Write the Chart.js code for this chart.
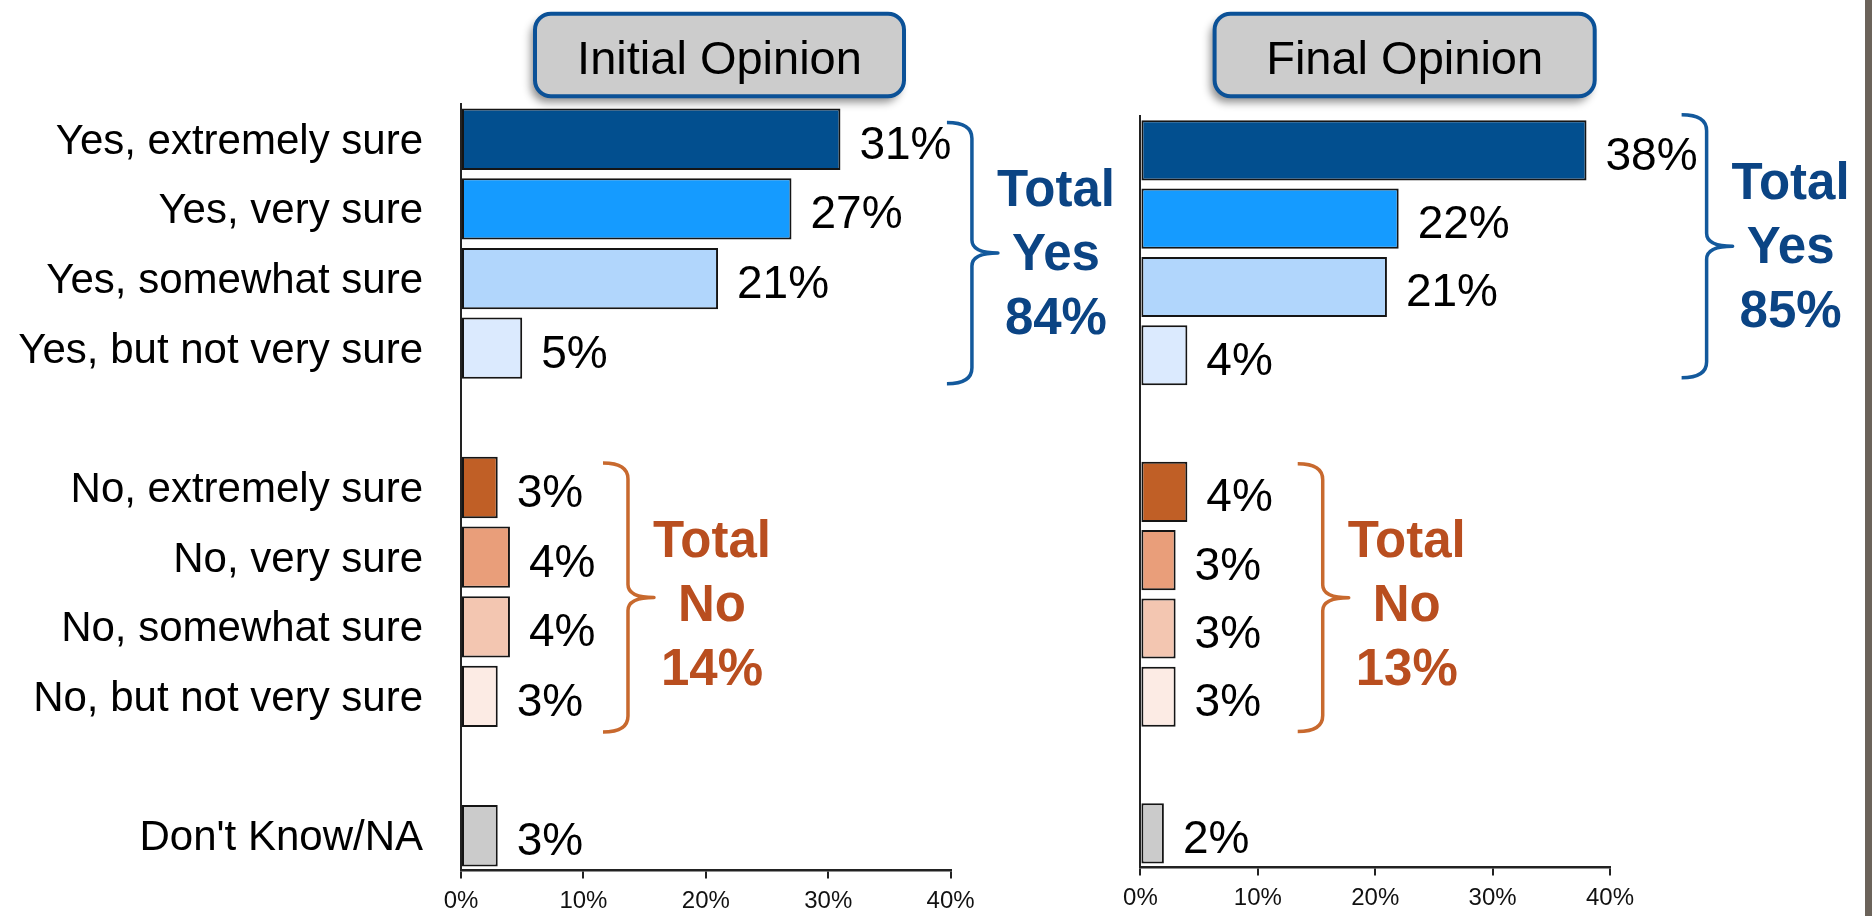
<!DOCTYPE html>
<html>
<head>
<meta charset="utf-8">
<script src="https://cdn.jsdelivr.net/npm/chart.js@4.4.1/dist/chart.umd.min.js"></script>
<style>
  html, body { margin:0; padding:0; background:#ffffff; width:1872px; height:916px; overflow:hidden; }
  .layer { position:absolute; left:0; top:0; width:1872px; height:916px; }
  #strip { position:absolute; left:1865px; top:0; width:7px; height:916px; background:#6b635a; }
</style>
</head>
<body>
<div class="layer"><canvas id="initialChart"></canvas></div>
<div class="layer"><canvas id="finalChart"></canvas></div>
<div id="strip"></div>
<script>
// ---------- DATA ----------
const categories = [
  'Yes, extremely sure', 'Yes, very sure', 'Yes, somewhat sure', 'Yes, but not very sure', '',
  'No, extremely sure', 'No, very sure', 'No, somewhat sure', 'No, but not very sure', '',
  "Don't Know/NA"
];
const initialValues = [31, 27, 21, 5, null, 3, 4, 4, 3, null, 3];
const finalValues   = [38, 22, 21, 4, null, 4, 3, 3, 3, null, 2];
const barColors = ['#024f8f', '#159bff', '#b1d6fc', '#dbeafe', null,
                   '#c05f26', '#e99e7a', '#f3c6b1', '#fcebe4', null, '#cbcbcb'];
const xTickValues = [0, 10, 20, 30, 40];
const panelTitles = ['Initial Opinion', 'Final Opinion'];
const totalYes = [84, 85];
const totalNo = [14, 13];
const yesRange = [0, 3];
const noRange = [5, 8];

// ---------- STYLE ----------
const FONT = '"Liberation Sans", Arial, Helvetica, sans-serif';
const BLUE_TEXT = '#0b4484', BLUE_BRACE = '#13599c';
const ORANGE_TEXT = '#b94e1f', ORANGE_BRACE = '#c8692e';

function drawTitleBox(ctx, box, text) {
  const [x1, y1, x2, y2] = box;
  ctx.save();
  ctx.shadowColor = 'rgba(0,0,0,0.45)';
  ctx.shadowBlur = 9;
  ctx.shadowOffsetX = -4;
  ctx.shadowOffsetY = 6;
  ctx.beginPath();
  ctx.roundRect(x1, y1, x2 - x1, y2 - y1, 16);
  ctx.fillStyle = '#cccccc';
  ctx.fill();
  ctx.shadowColor = 'transparent';
  ctx.lineWidth = 4;
  ctx.strokeStyle = '#0b5197';
  ctx.stroke();
  ctx.fillStyle = '#000';
  ctx.font = '47px ' + FONT;
  ctx.textAlign = 'center';
  ctx.textBaseline = 'alphabetic';
  ctx.fillText(text, (x1 + x2) / 2, 74);
  ctx.restore();
}

function drawBrace(ctx, tip, top, bottom, color) {
  const line = tip + 25, point = tip + 51, mid = (top + bottom) / 2;
  ctx.save();
  ctx.strokeStyle = color;
  ctx.lineWidth = 3.5;
  ctx.lineJoin = 'round';
  ctx.beginPath();
  ctx.moveTo(tip, top);
  ctx.quadraticCurveTo(line, top, line, top + 16);
  ctx.lineTo(line, mid - 13);
  ctx.quadraticCurveTo(line, mid, point, mid);
  ctx.quadraticCurveTo(line, mid, line, mid + 13);
  ctx.lineTo(line, bottom - 16);
  ctx.quadraticCurveTo(line, bottom, tip, bottom);
  ctx.stroke();
  ctx.restore();
}

const decorPlugin = {
  id: 'decor',
  afterDatasetsDraw(chart, args, opts) {
    const ctx = chart.ctx;
    const xs = chart.scales.x;
    const meta = chart.getDatasetMeta(0);
    const vals = chart.data.datasets[0].data;
    ctx.save();
    ctx.fillStyle = '#000';
    ctx.font = '46px ' + FONT;
    ctx.textAlign = 'left';
    ctx.textBaseline = 'alphabetic';
    vals.forEach((v, i) => {
      if (v === null) return;
      const bar = meta.data[i];
      ctx.fillText(v + '%', xs.getPixelForValue(v) + 19, bar.y + 19.5);
    });
    ctx.restore();
  },
  afterDraw(chart, args, opts) {
    const ctx = chart.ctx;
    const xs = chart.scales.x, ys = chart.scales.y;
    drawTitleBox(ctx, opts.box, opts.title);
    opts.braces.forEach(b => {
      const top = ys.getPixelForValue(b.from);
      const bottom = ys.getPixelForValue(b.to);
      const tip = xs.getPixelForValue(b.tipValue);
      drawBrace(ctx, tip, top, bottom, b.braceColor);
      const mid = (top + bottom) / 2;
      ctx.save();
      ctx.fillStyle = b.textColor;
      ctx.font = 'bold 51px ' + FONT;
      ctx.textAlign = 'center';
      ctx.textBaseline = 'alphabetic';
      b.lines.forEach((t, k) => ctx.fillText(t, tip + 51 + 58, mid + b.textDy + k * 64));
      ctx.restore();
    });
  }
};

function makeChart(id, values, cfg) {
  return new Chart(document.getElementById(id), {
    type: 'bar',
    data: {
      labels: categories,
      datasets: [{
        data: values,
        backgroundColor: barColors.map(c => c || 'transparent'),
        borderColor: '#151515',
        borderWidth: 2,
        borderSkipped: false,
        barPercentage: 0.88,
        categoryPercentage: 1.0
      }]
    },
    plugins: [decorPlugin],
    options: {
      indexAxis: 'y',
      responsive: true,
      maintainAspectRatio: false,
      animation: false,
      events: [],
      layout: { padding: { left: 0, top: cfg.top, right: cfg.right, bottom: 0 } },
      scales: {
        x: {
          type: 'linear',
          min: 0, max: 40,
          afterBuildTicks: s => { s.ticks = xTickValues.map(v => ({ value: v })); },
          afterFit: s => { s.height = cfg.xHeight; },
          ticks: {
            callback: v => v + '%',
            font: { family: FONT, size: 24 },
            color: '#111',
            padding: 8,
            maxRotation: 0
          },
          grid: { display: true, drawOnChartArea: false, drawTicks: true, tickLength: 8, color: '#222', lineWidth: 2 },
          border: { display: true, color: '#222', width: 2.5 }
        },
        y: {
          type: 'category',
          afterFit: s => { s.width = cfg.yWidth; },
          ticks: {
            display: cfg.showLabels,
            font: { family: FONT, size: 42 },
            color: '#000',
            padding: 0,
            labelOffset: 3,
            autoSkip: false
          },
          grid: { display: false, drawTicks: true, tickLength: 38 },
          border: { display: true, color: '#222', width: 2 }
        }
      },
      plugins: {
        legend: { display: false },
        tooltip: { enabled: false },
        decor: {
          title: cfg.title,
          box: cfg.box,
          braces: cfg.braces
        }
      }
    }
  });
}

makeChart('initialChart', initialValues, {
  top: 104.4, right: 1872 - 950.6, xHeight: 916 - 870.6, yWidth: 461, showLabels: true,
  title: panelTitles[0], box: [535, 13.7, 904, 96.3],
  braces: [
    { from: yesRange[0] - 0.24, to: yesRange[1] + 0.51, tipValue: 39.7, braceColor: BLUE_BRACE,
      textColor: BLUE_TEXT, textDy: -47.5, lines: ['Total', 'Yes', totalYes[0] + '%'] },
    { from: noRange[0] - 0.35, to: noRange[1] + 0.51, tipValue: 11.6, braceColor: ORANGE_BRACE,
      textColor: ORANGE_TEXT, textDy: -40.7, lines: ['Total', 'No', totalNo[0] + '%'] }
  ]
});

makeChart('finalChart', finalValues, {
  top: 116.2, right: 1872 - 1610, xHeight: 916 - 867.5, yWidth: 1140.4, showLabels: false,
  title: panelTitles[1], box: [1214.6, 13.7, 1594.7, 96.3],
  braces: [
    { from: yesRange[0] - 0.52, to: yesRange[1] + 0.33, tipValue: 46.1, braceColor: BLUE_BRACE,
      textColor: BLUE_TEXT, textDy: -47.7, lines: ['Total', 'Yes', totalYes[1] + '%'] },
    { from: noRange[0] - 0.41, to: noRange[1] + 0.51, tipValue: 13.4, braceColor: ORANGE_BRACE,
      textColor: ORANGE_TEXT, textDy: -40.7, lines: ['Total', 'No', totalNo[1] + '%'] }
  ]
});
</script>
</body>
</html>
